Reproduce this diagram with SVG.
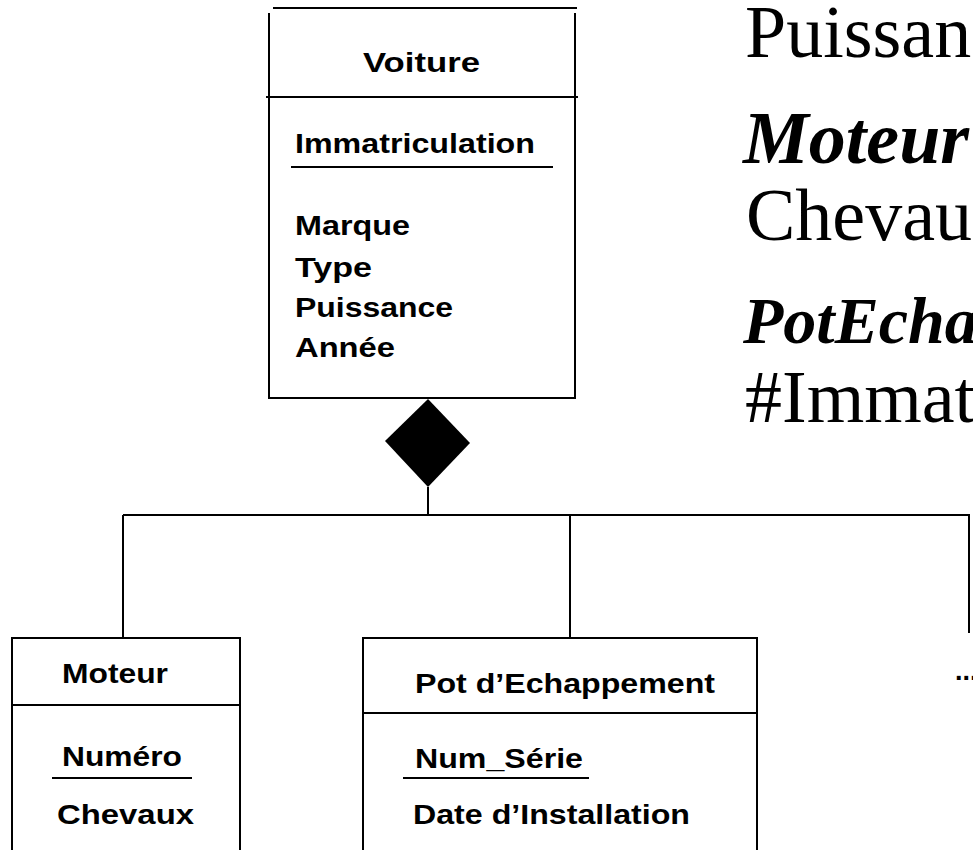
<svg xmlns="http://www.w3.org/2000/svg" width="973" height="850" viewBox="0 0 973 850">
<style>
.ln{stroke:#000;stroke-width:2;fill:none}
.bx{stroke:#000;stroke-width:2;fill:#fff}
.s{font-family:"Liberation Sans",Arial,sans-serif;font-weight:bold;font-size:27px;fill:#000}
.r{font-family:"Liberation Serif","Times New Roman",serif;font-size:74px;fill:#000}
.bi{font-family:"Liberation Serif","Times New Roman",serif;font-weight:bold;font-style:italic;fill:#000}
</style>
<rect width="973" height="850" fill="#fff"/>
<g id="connectors">
<polygon points="428,399 470,443 428,487 385,441" fill="#000"/>
<path class="ln" d="M428,487 V515 M123,515 H970 M123,515 V638 M570,515 V638 M969,515 V633"/>
</g>
<g id="voiture">
<path class="ln" d="M273,8 H577 M269,13 V398 M575,13 V398 M266,97 H578 M268,398 H576"/>
<text class="s" x="363" y="72" textLength="117" lengthAdjust="spacingAndGlyphs">Voiture</text>
<text class="s" x="295" y="153" textLength="240" lengthAdjust="spacingAndGlyphs">Immatriculation</text>
<line class="ln" x1="291" y1="167" x2="553" y2="167"/>
<text class="s" x="295" y="235" textLength="115" lengthAdjust="spacingAndGlyphs">Marque</text>
<text class="s" x="295" y="277" textLength="77" lengthAdjust="spacingAndGlyphs">Type</text>
<text class="s" x="295" y="317" textLength="158" lengthAdjust="spacingAndGlyphs">Puissance</text>
<text class="s" x="295" y="357" textLength="100" lengthAdjust="spacingAndGlyphs">Année</text>
</g>
<g id="moteur">
<rect class="bx" x="12" y="638" width="228" height="230"/>
<line class="ln" x1="12" y1="705" x2="240" y2="705"/>
<text class="s" x="62" y="683" textLength="106" lengthAdjust="spacingAndGlyphs">Moteur</text>
<text class="s" x="62" y="766" textLength="120" lengthAdjust="spacingAndGlyphs">Numéro</text>
<line class="ln" x1="52" y1="778" x2="192" y2="778"/>
<text class="s" x="57" y="824" textLength="137" lengthAdjust="spacingAndGlyphs">Chevaux</text>
</g>
<g id="pot">
<rect class="bx" x="363" y="638" width="394" height="230"/>
<line class="ln" x1="363" y1="713" x2="757" y2="713"/>
<text class="s" x="415" y="693" textLength="300" lengthAdjust="spacingAndGlyphs">Pot d’Echappement</text>
<text class="s" x="415" y="768" textLength="168" lengthAdjust="spacingAndGlyphs">Num_Série</text>
<line class="ln" x1="403" y1="778" x2="589" y2="778"/>
<text class="s" x="413" y="824" textLength="277" lengthAdjust="spacingAndGlyphs">Date d’Installation</text>
</g>
<g id="more">
<text class="s" x="955" y="680">...</text>
</g>
<g id="notes">
<text class="r" x="745" y="57">Puissan</text>
<text class="bi" x="743" y="163" font-size="74">Moteur</text>
<text class="r" x="746" y="240">Chevau</text>
<text class="bi" x="743" y="343" font-size="66">PotEcha</text>
<text class="r" x="745" y="422">#Immat</text>
</g>
</svg>
